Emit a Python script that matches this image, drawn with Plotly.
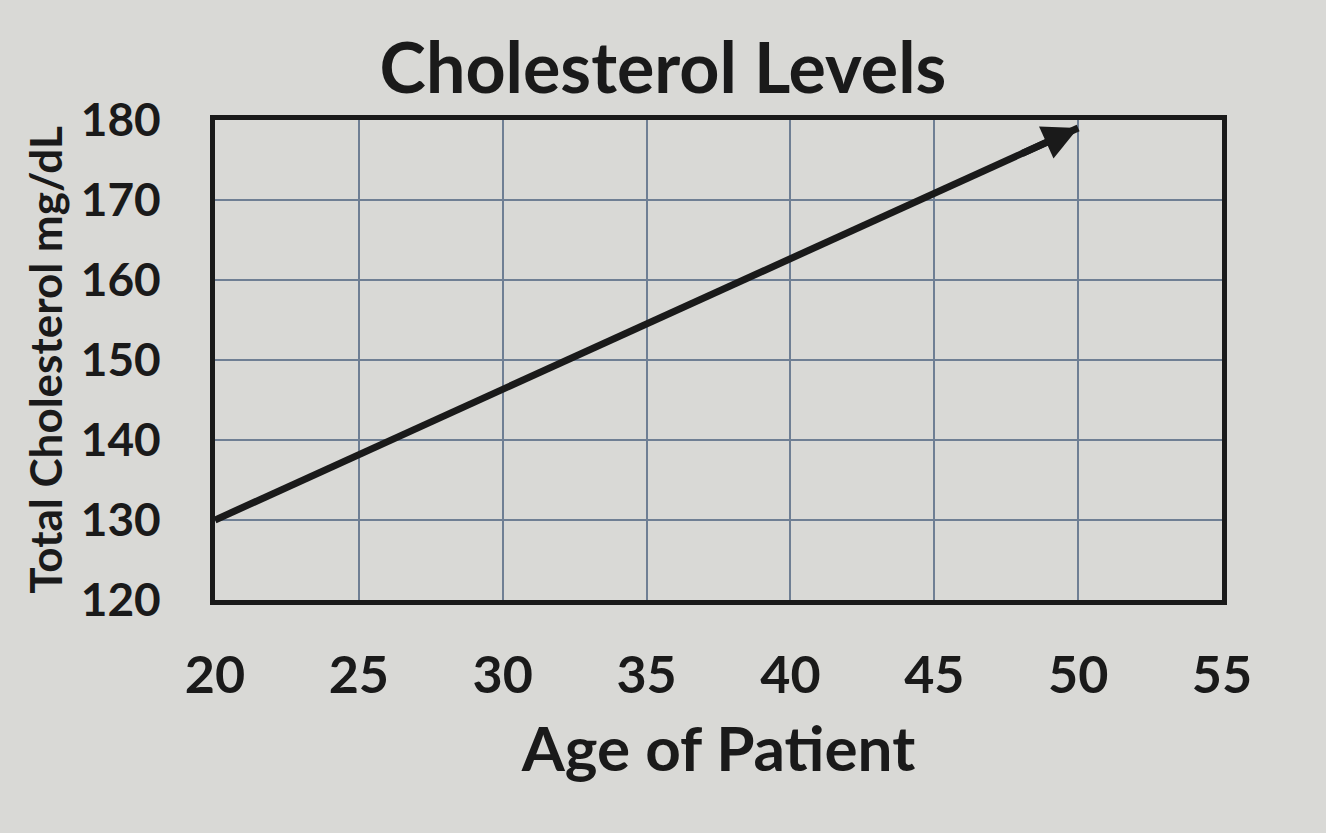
import plotly.graph_objects as go

# data
ages = [20, 50]
cholesterol = [130, 179]
x_ticks = [20, 25, 30, 35, 40, 45, 50, 55]
y_ticks = [120, 130, 140, 150, 160, 170, 180]

bg = "#d9d9d6"
grid = "#6f7f94"
font_family = "Lato, 'Open Sans', sans-serif"

fig = go.Figure()

fig.add_trace(go.Scatter(
    x=ages,
    y=cholesterol,
    mode="lines",
    line={"color": "#1a1a1a", "width": 7},
    hoverinfo="skip",
    showlegend=False
))

# arrowhead at the end of the line
slope = (cholesterol[-1] - cholesterol[0]) / (ages[-1] - ages[0])
fig.add_annotation(
    x=ages[-1], y=cholesterol[-1],
    ax=ages[-1] - 2, ay=cholesterol[-1] - slope * 2,
    xref="x", yref="y", axref="x", ayref="y",
    showarrow=True, arrowhead=2, arrowsize=1.0, arrowwidth=7, arrowcolor="#1a1a1a",
    text=""
)

fig.update_layout(
    width=1326,
    height=833,
    paper_bgcolor=bg,
    plot_bgcolor=bg,
    margin={"l": 215, "r": 104, "t": 120, "b": 233},
    font={"family": font_family, "color": "#1a1a1a"},
    title={
        "text": "<b>Cholesterol Levels</b>",
        "font": {"size": 70, "family": font_family, "color": "#1a1a1a"},
        "x": 0.5, "xanchor": "center",
        "y": 0.918, "yanchor": "middle"
    }
)

fig.update_xaxes(
    range=[20, 55],
    tickvals=x_ticks,
    ticktext=["<b>%d</b>" % v for v in x_ticks],
    tickfont={"size": 52, "color": "#1a1a1a"},
    ticks="outside", ticklen=26, tickcolor=bg,
    showgrid=True, gridcolor=grid, gridwidth=1.5,
    showline=True, linecolor="#1a1a1a", linewidth=5, mirror=True,
    zeroline=False,
    title={"text": "<b>Age of Patient</b>", "font": {"size": 62, "color": "#1a1a1a"}, "standoff": 26}
)

fig.update_yaxes(
    range=[120, 180],
    tickvals=y_ticks,
    ticktext=["<b>%d</b>" % v for v in y_ticks],
    tickfont={"size": 46, "color": "#1a1a1a"},
    ticks="outside", ticklen=40, tickcolor=bg,
    showgrid=True, gridcolor=grid, gridwidth=1.5,
    showline=True, linecolor="#1a1a1a", linewidth=5, mirror=True,
    zeroline=False,
    title={"text": "<b>Total Cholesterol mg/dL</b>", "font": {"size": 44, "color": "#1a1a1a"}, "standoff": 6}
)

fig.write_html("out.html", config={"displayModeBar": False},
               post_script="document.body.style.margin='0';")
